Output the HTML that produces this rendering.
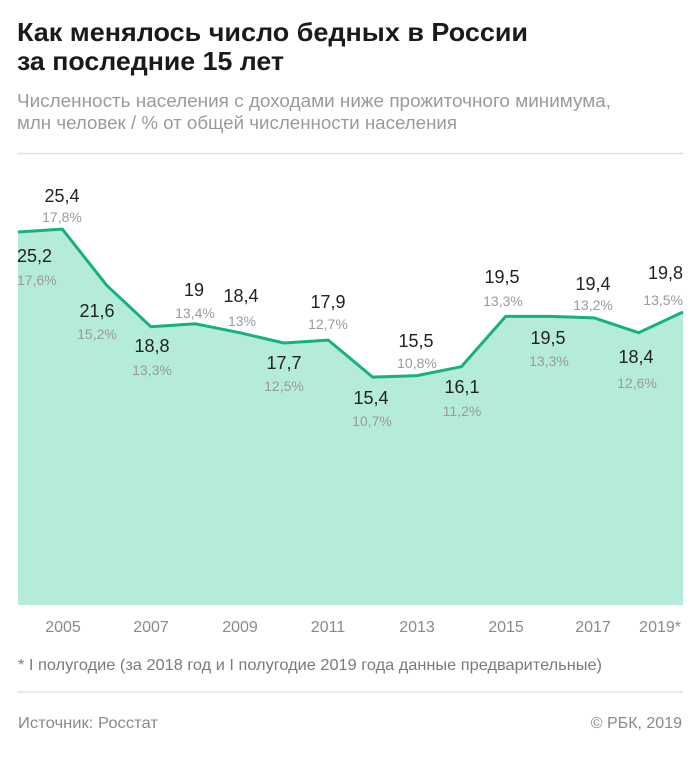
<!DOCTYPE html>
<html>
<head>
<meta charset="utf-8">
<style>
html,body{margin:0;padding:0;background:#fff;}
svg{display:block;}
text{font-family:"Liberation Sans","DejaVu Sans",sans-serif;}
.v{font-size:18px;fill:#222;text-anchor:middle;}
.p{font-size:14px;fill:#9a9a9a;text-anchor:middle;}
.y{font-size:16px;fill:#8a8a8a;text-anchor:middle;}
</style>
</head>
<body>
<svg width="700" height="758" viewBox="0 0 700 758" xmlns="http://www.w3.org/2000/svg">
<rect width="700" height="758" fill="#fff"/>
<text x="17" y="41" font-size="26" font-weight="bold" fill="#1a1a1a" textLength="511" lengthAdjust="spacingAndGlyphs">Как менялось число бедных в России</text>
<text x="17" y="70" font-size="26" font-weight="bold" fill="#1a1a1a" textLength="267" lengthAdjust="spacingAndGlyphs">за последние 15 лет</text>
<text x="17" y="107" font-size="18" fill="#9a9a9a" textLength="594" lengthAdjust="spacingAndGlyphs">Численность населения с доходами ниже прожиточного минимума,</text>
<text x="17" y="129" font-size="18" fill="#9a9a9a" textLength="440" lengthAdjust="spacingAndGlyphs">млн человек / % от общей численности населения</text>
<line x1="17" y1="153.5" x2="683" y2="153.5" stroke="#e2e2e2" stroke-width="1.5"/>

<polygon fill="#b5ebda" points="18,605 18,232 62.3,229.1 106.7,285.3 151,326.8 195.3,323.8 239.7,332.7 284,343 328.3,340.1 372.7,377.1 417,375.6 461.3,366.7 505.7,316.4 550,316.4 594.3,317.9 638.7,332.7 683,312 683,605"/>
<polyline fill="none" stroke="#17b07f" stroke-width="3" stroke-linejoin="round" points="18,232 62.3,229.1 106.7,285.3 151,326.8 195.3,323.8 239.7,332.7 284,343 328.3,340.1 372.7,377.1 417,375.6 461.3,366.7 505.7,316.4 550,316.4 594.3,317.9 638.7,332.7 683,312"/>

<text class="v" x="62" y="202">25,4</text><text class="p" x="62" y="222">17,8%</text>
<text class="v" x="17" y="262" style="text-anchor:start">25,2</text><text class="p" x="17" y="285" style="text-anchor:start">17,6%</text>
<text class="v" x="97" y="317">21,6</text><text class="p" x="97" y="339">15,2%</text>
<text class="v" x="152" y="352">18,8</text><text class="p" x="152" y="375">13,3%</text>
<text class="v" x="194" y="296">19</text><text class="p" x="195" y="318">13,4%</text>
<text class="v" x="241" y="302">18,4</text><text class="p" x="242" y="326">13%</text>
<text class="v" x="284" y="369">17,7</text><text class="p" x="284" y="391">12,5%</text>
<text class="v" x="328" y="308">17,9</text><text class="p" x="328" y="329">12,7%</text>
<text class="v" x="371" y="404">15,4</text><text class="p" x="372" y="426">10,7%</text>
<text class="v" x="416" y="347">15,5</text><text class="p" x="417" y="368">10,8%</text>
<text class="v" x="462" y="393">16,1</text><text class="p" x="462" y="416">11,2%</text>
<text class="v" x="502" y="283">19,5</text><text class="p" x="503" y="306">13,3%</text>
<text class="v" x="548" y="344">19,5</text><text class="p" x="549" y="366">13,3%</text>
<text class="v" x="593" y="290">19,4</text><text class="p" x="593" y="310">13,2%</text>
<text class="v" x="636" y="363">18,4</text><text class="p" x="637" y="388">12,6%</text>
<text class="v" x="683" y="279" style="text-anchor:end">19,8</text><text class="p" x="683" y="305" style="text-anchor:end">13,5%</text>

<text class="y" x="63" y="632">2005</text>
<text class="y" x="151" y="632">2007</text>
<text class="y" x="240" y="632">2009</text>
<text class="y" x="328" y="632">2011</text>
<text class="y" x="417" y="632">2013</text>
<text class="y" x="506" y="632">2015</text>
<text class="y" x="593" y="632">2017</text>
<text class="y" x="681" y="632" style="text-anchor:end">2019*</text>

<text x="18" y="670" font-size="16" fill="#7a7a7a" textLength="584" lengthAdjust="spacingAndGlyphs">* I полугодие (за 2018 год и I полугодие 2019 года данные предварительные)</text>
<line x1="17" y1="692" x2="683" y2="692" stroke="#e2e2e2" stroke-width="1.5"/>
<text x="18" y="728" font-size="16" fill="#8a8a8a" textLength="140" lengthAdjust="spacingAndGlyphs">Источник: Росстат</text>
<text x="682" y="728" font-size="16" fill="#8a8a8a" text-anchor="end">© РБК, 2019</text>
</svg>
</body>
</html>
